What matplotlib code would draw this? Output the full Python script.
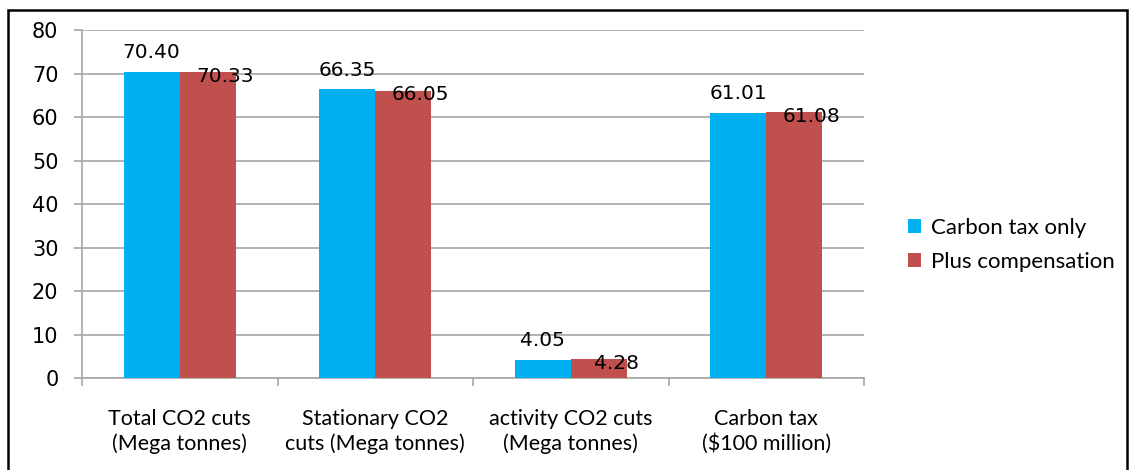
import matplotlib
matplotlib.use('Agg')
import matplotlib.pyplot as plt
from matplotlib.patches import Rectangle
import numpy as np

# Dati del grafico
categories = ["Total CO2 cuts\n(Mega tonnes)", "Stationary CO2\ncuts (Mega tonnes)",
              "activity CO2 cuts\n(Mega tonnes)", "Carbon tax\n($100 million)"]
carbon_tax_only = [70.40, 66.35, 4.05, 61.01]
plus_compensation = [70.33, 66.05, 4.28, 61.08]
series_names = ["Carbon tax only", "Plus compensation"]
yticks = [0, 10, 20, 30, 40, 50, 60, 70, 80]

blue = "#00B0F0"
red = "#C0504D"
grey = "#A6A6A6"

fig = plt.figure(figsize=(11.31, 4.70), dpi=100)
ax = fig.add_axes([0.0725, 0.1957, 0.6915, 0.7403])

x = np.arange(len(categories))
w = 0.287
b1 = ax.bar(x - w / 2, carbon_tax_only, w, color=blue, label=series_names[0], zorder=3)
b2 = ax.bar(x + w / 2, plus_compensation, w, color=red, label=series_names[1], zorder=3)

# Etichette dei valori
for rect, v in zip(b1, carbon_tax_only):
    ax.annotate(f"{v:.2f}", (rect.get_x() + rect.get_width() / 2, v),
                xytext=(0, 14), textcoords="offset points", ha="center", va="center",
                fontsize=14.5, family="DejaVu Sans", zorder=5)
for rect, v in zip(b2, plus_compensation):
    ax.annotate(f"{v:.2f}", (rect.get_x() + rect.get_width() / 2, v),
                xytext=(12.5, -3), textcoords="offset points", ha="center", va="center",
                fontsize=14.5, family="DejaVu Sans", zorder=5)

ax.set_xlim(-0.5, len(categories) - 0.5)
ax.set_ylim(0, 80)
ax.set_yticks(yticks)
ax.set_yticklabels([str(t) for t in yticks], fontsize=15, family="DejaVu Sans")
ax.yaxis.grid(True, color=grey, linewidth=1.2, zorder=0)

ax.set_xticks(x)
ax.set_xticklabels(categories, fontsize=15.5, family="Lato", linespacing=1.3)
ax.set_xticks(np.arange(-0.5, len(categories)), minor=True)
ax.tick_params(axis="x", which="major", length=0, pad=22)
ax.tick_params(axis="x", which="minor", length=6, width=1.2, color=grey)
ax.tick_params(axis="y", length=6, width=1.2, color=grey, pad=11)

for s in ["top", "right"]:
    ax.spines[s].set_visible(False)
for s in ["left", "bottom"]:
    ax.spines[s].set_color(grey)
    ax.spines[s].set_linewidth(1.2)

leg = fig.legend(loc="center left", bbox_to_anchor=(0.785, 0.479), frameon=False,
                 prop={"family": "Lato", "size": 16}, handlelength=0.6, handleheight=0.6,
                 handletextpad=0.45, labelspacing=0.6)

# Cornice esterna
fig.patches.append(Rectangle((8 / 1131, -0.05), 1119 / 1131, 1.05 - 10 / 470,
                             transform=fig.transFigure, fill=False,
                             edgecolor="black", linewidth=1.8))

fig.savefig("out.png", dpi=100)
